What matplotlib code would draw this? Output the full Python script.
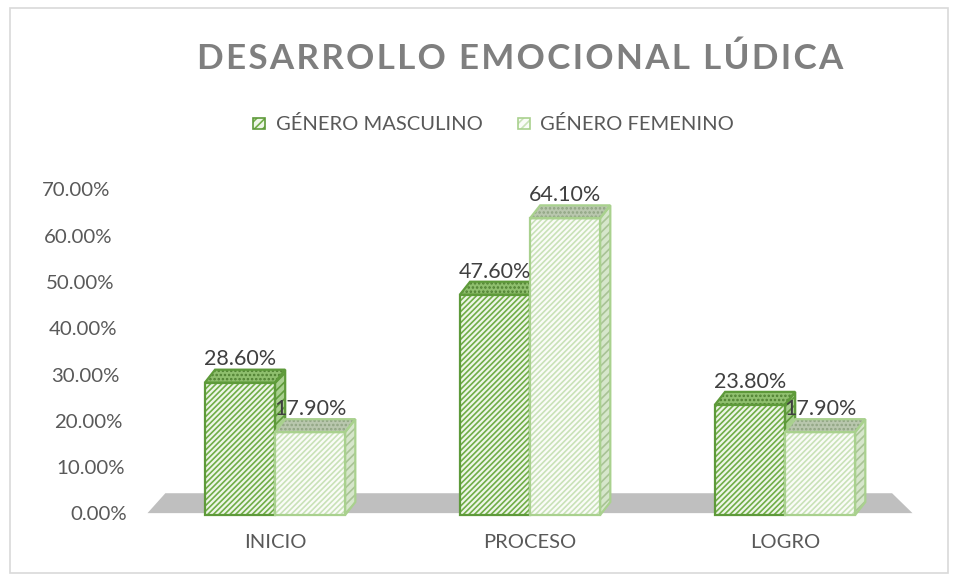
import numpy as np
import matplotlib

matplotlib.use("Agg")
import matplotlib.pyplot as plt
import matplotlib.transforms as mtransforms
from matplotlib.patches import Polygon, Rectangle

categorias = ["INICIO", "PROCESO", "LOGRO"]
series = ["GÉNERO MASCULINO", "GÉNERO FEMENINO"]
masculino = [0.286, 0.476, 0.238]
femenino = [0.179, 0.641, 0.179]
yticks = [0.0, 0.1, 0.2, 0.3, 0.4, 0.5, 0.6, 0.7]

plt.rcParams["font.family"] = ["Lato", "DejaVu Sans"]
plt.rcParams["hatch.linewidth"] = 1.2

TXT = "#595959"
ESTILO = {
    "m": dict(face="#EEF6E8", hatch_c="#70AD47", edge="#5E9A3A",
              top="#8FBF6E", top_h="#4E7F30", side="#A8CF8E", side_h="#5E9A3A"),
    "f": dict(face="#FAFCF8", hatch_c="#C9E2B8", edge="#A9D18E",
              top="#B9C7AE", top_h="#8FA482", side="#D6E6CB", side_h="#A9C396"),
}

W = 0.275             # ancho de cada barra (unidades de categoría)
DX, DY = 0.04, 0.028  # profundidad 3D

fig = plt.figure(figsize=(9.59, 5.8), dpi=100)
ax = fig.add_axes([0.1538, 0.1121, 0.7977, 0.5586])
ax.set_xlim(-0.5, 2.5)
ax.set_ylim(0, 0.70)

# suelo gris
floor = Polygon([(-0.5, 0.004), (2.5, 0.004), (2.42, 0.047), (-0.43, 0.047)],
                closed=True, facecolor="#BFBFBF", edgecolor="none", zorder=1,
                clip_on=False)
ax.add_patch(floor)


def barra3d(x0, h, st, z):
    x1 = x0 + W
    side = Polygon([(x1, 0), (x1, h), (x1 + DX, h + DY), (x1 + DX, DY)],
                   facecolor=st["side"], edgecolor=st["side_h"], hatch="////",
                   lw=0, zorder=z, clip_on=False)
    top = Polygon([(x0, h), (x1, h), (x1 + DX, h + DY), (x0 + DX, h + DY)],
                  facecolor=st["top"], edgecolor=st["top_h"], hatch="....",
                  lw=0, zorder=z, clip_on=False)
    front = Rectangle((x0, 0), W, h, facecolor=st["face"],
                      edgecolor=st["hatch_c"], hatch="//////", lw=0, zorder=z,
                      clip_on=False)
    for p in (side, top, front):
        ax.add_patch(p)
    # contornos
    for pts in ([(x1, 0), (x1, h), (x1 + DX, h + DY), (x1 + DX, DY)],
                [(x0, h), (x1, h), (x1 + DX, h + DY), (x0 + DX, h + DY)],
                [(x0, 0), (x1, 0), (x1, h), (x0, h)]):
        ax.add_patch(Polygon(pts, closed=True, facecolor="none",
                             edgecolor=st["edge"], lw=1.6, zorder=z + 0.1,
                             clip_on=False))


x = np.arange(len(categorias))
for i in range(len(categorias)):
    xm = x[i] - W
    xf = x[i]
    barra3d(xm, masculino[i], ESTILO["m"], 3 + i)
    barra3d(xf, femenino[i], ESTILO["f"], 3.5 + i)
    ax.text(xm + W / 2, masculino[i] + DY + 0.009, f"{masculino[i]*100:.2f}%",
            ha="center", va="baseline", fontsize=15.5, color="#404040", zorder=10)
    ax.text(xf + W / 2, femenino[i] + DY + 0.009, f"{femenino[i]*100:.2f}%",
            ha="center", va="baseline", fontsize=15.5, color="#404040", zorder=10)

# etiquetas del eje y (desplazadas por la perspectiva 3D)
ax.set_yticks([])
for v in yticks:
    px = 20.5 + 17 * v / 0.7
    off = mtransforms.ScaledTranslation(-px / 100, 0, fig.dpi_scale_trans)
    ax.text(0, v, f"{v*100:.2f}%", transform=ax.get_yaxis_transform() + off,
            ha="right", va="center", fontsize=14.7, color=TXT)

ax.set_xticks(x)
ax.set_xticklabels(categorias, fontsize=14.5, color=TXT)
ax.tick_params(axis="x", length=0, pad=14)
for s in ax.spines.values():
    s.set_visible(False)

# título con espaciado entre letras
titulo = "DESARROLLO EMOCIONAL LÚDICA"
fig.text(0.542, 0.899, "\u200a".join(titulo), ha="center", va="center",
         fontsize=25.2, fontweight="bold", color="#7F7F7F")

# leyenda
for lx, nombre, st in ((0.264, series[0], ESTILO["m"]), (0.540, series[1], ESTILO["f"])):
    fig.patches.append(Rectangle((lx, 0.777), 0.0125, 0.02, transform=fig.transFigure,
                                 facecolor=st["face"], edgecolor=st["hatch_c"],
                                 hatch="////", lw=0))
    fig.patches.append(Rectangle((lx, 0.777), 0.0125, 0.02, transform=fig.transFigure,
                                 facecolor="none", edgecolor=st["edge"], lw=1.2))
    fig.text(lx + 0.0235, 0.787, nombre, ha="left", va="center", fontsize=14.5,
             color=TXT)

# marco del gráfico
fig.patches.append(Rectangle((0.0105, 0.012), 0.978, 0.975, transform=fig.transFigure,
                             facecolor="none", edgecolor="#D9D9D9", lw=1.2))

fig.savefig("out.png", dpi=100)
